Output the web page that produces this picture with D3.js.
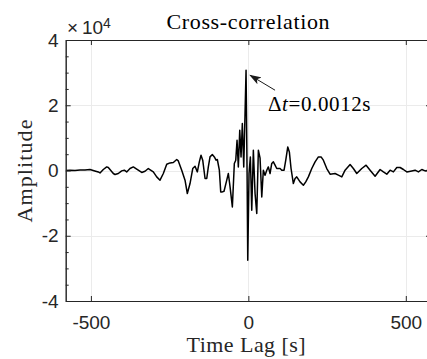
<!DOCTYPE html>
<html>
<head>
<meta charset="utf-8">
<script src="https://cdn.jsdelivr.net/npm/d3@7"></script>
<style>
  html, body { margin: 0; padding: 0; background: #fff; }
  svg { display: block; }
</style>
</head>
<body>
<svg id="chart" width="427" height="359"></svg>
<script>
// Cross-correlation of the two records: lag (s) and amplitude
const lagSeconds = [
  -579.1, -566.4, -550.5, -534.6, -518.7, -502.9, -490.2, -476.5, -471.1, -460.6,
  -449.8, -444.7, -428.8, -423.4, -413.0, -402.2, -393.9, -386.3, -375.8, -365.3,
  -354.5, -338.6, -328.1, -317.7, -301.8, -291.0, -280.5, -270.0, -259.2, -248.7,
  -238.2, -227.4, -222.4, -211.6, -201.1, -193.8, -185.2, -176.6, -169.3, -162.0,
  -155.7, -150.3, -144.9, -137.5, -132.1, -127.1, -121.7, -114.4, -108.0, -102.6,
  -98.5, -92.1, -87.7, -82.6, -77.2, -68.6, -63.5, -58.1, -50.8, -44.5,
  -40.0, -35.9, -31.8, -27.3, -23.2, -19.1, -14.6, -10.5, -7.3, -4.1,
  -1.9, 2.2, 6.4, 10.8, 15.9, 21.3, 26.7, 31.8, 37.2, 42.6,
  47.6, 53.0, 58.5, 63.5, 68.9, 74.3, 79.4, 84.8, 90.2, 100.7,
  106.1, 113.4, 118.8, 125.2, 130.2, 135.6, 142.9, 148.3, 153.7, 164.2,
  174.7, 182.3, 190.6, 201.4, 211.9, 222.4, 230.9, 238.2, 249.0, 259.5,
  275.4, 285.9, 296.7, 307.2, 323.1, 333.5, 344.3, 360.2, 373.9, 386.6,
  402.5, 418.4, 428.8, 439.6, 450.1, 460.6, 471.4, 481.9, 492.4, 503.2,
  519.1, 529.5, 540.0, 550.8, 561.3, 574.0
];
const amplitude = [
  0, 90, 30, 150, 180, 310, -60, -430, -740, 310,
  1100, 920, -920, -1230, -920, -120, 90, -430, 610, 1100,
  400, -610, -220, 610, -430, -1960, -2970, -920, 1930, 2330,
  2450, 3370, 2940, 90, -2970, -7050, -3990, 610, 1320, -430,
  2640, 4690, 3160, -2450, -2450, 1100, 4170, 4900, 4170, 3160,
  3370, 90, -6560, -6560, -6350, -2970, -920, -5030, -11160, 2150,
  3160, 9290, 1100, 12350, 4170, 14410, 1100, 17470, 30740, 90,
  -27490, -920, 4170, -12170, 6220, -7050, -13180, 6220, 3770, -8090,
  90, -1440, 90, 1100, -920, 2150, 2640, 1620, 610, 610,
  90, 90, 3160, 7230, 5700, 610, -3990, -2450, -1960, -3490,
  -4510, -3490, -1960, 610, 2640, 4170, 4170, 3160, 610, -1130,
  -920, -1440, -1960, 90, 1840, 610, -920, 610, 1620, 90,
  -1750, 310, -430, -1130, 90, -430, 920, 920, 310, -430,
  -120, 90, -430, 310, -120, 90
];

const xTicks = [-500, 0, 500];
const yTicks = [-40000, -20000, 0, 20000, 40000];
const yMinorTicks = d3.range(-40000, 40001, 5000).filter(v => v % 20000 !== 0);
const xDomain = [-580, 580];
const yDomain = [-40000, 40000];
const yExponent = 4;

const titleText = "Cross-correlation";
const xLabelText = "Time Lag [s]";
const yLabelText = "Amplitude";
const peakNote = { delta: "\u0394", sym: "t", rest: "=0.0012s" };

const svg = d3.select("#chart");
const plot = { left: 65.7, right: 431, top: 40, bottom: 301 };

const axisColor = "#262626";
const gridColor = "#ebebeb";
const sansFont = "'Liberation Sans', Arial, Helvetica, sans-serif";
const serifFont = "'Liberation Serif', 'Times New Roman', serif";

const x = d3.scaleLinear().domain(xDomain).range([plot.left, plot.right]);
const y = d3.scaleLinear().domain(yDomain).range([plot.bottom, plot.top]);

// grid
const grid = svg.append("g").attr("stroke", gridColor).attr("stroke-width", 1);
grid.selectAll("line.gx").data(xTicks).join("line")
  .attr("class", "gx")
  .attr("x1", d => Math.round(x(d)) + 0.5).attr("x2", d => Math.round(x(d)) + 0.5)
  .attr("y1", plot.top).attr("y2", plot.bottom);
grid.selectAll("line.gy").data(yTicks).join("line")
  .attr("class", "gy")
  .attr("y1", d => Math.round(y(d)) + 0.5).attr("y2", d => Math.round(y(d)) + 0.5)
  .attr("x1", plot.left).attr("x2", plot.right);

// signal
const series = lagSeconds.map((t, i) => [t, amplitude[i]]);
const line = d3.line().x(d => x(d[0])).y(d => y(d[1]));
svg.append("path")
  .datum(series)
  .attr("fill", "none")
  .attr("stroke", "#000")
  .attr("stroke-width", 1.5)
  .attr("stroke-linejoin", "round")
  .attr("d", line);

// axes (ticks point inward)
const styleAxis = g => {
  g.select(".domain").attr("stroke", axisColor).attr("stroke-width", 1);
  g.selectAll(".tick line").attr("stroke", axisColor).attr("stroke-width", 1);
  g.selectAll(".tick text")
    .attr("fill", axisColor)
    .attr("font-family", sansFont)
    .attr("font-size", 19);
};

svg.append("g")
  .attr("transform", `translate(0,${plot.bottom})`)
  .call(d3.axisBottom(x).tickValues(xTicks).tickSizeInner(-5).tickSizeOuter(0)
    .tickPadding(14.5).tickFormat(d => String(d)))
  .call(styleAxis);

svg.append("g")
  .attr("transform", `translate(0,${plot.top})`)
  .call(d3.axisTop(x).tickValues(xTicks).tickSizeInner(-5).tickSizeOuter(0).tickFormat(""))
  .call(styleAxis);

svg.append("g")
  .attr("transform", `translate(${plot.left},0)`)
  .call(d3.axisLeft(y).tickValues(yMinorTicks).tickSizeInner(-3).tickSizeOuter(0).tickFormat(""))
  .call(styleAxis);

svg.append("g")
  .attr("transform", `translate(${plot.left},0)`)
  .call(d3.axisLeft(y).tickValues(yTicks).tickSizeInner(-5).tickSizeOuter(0)
    .tickPadding(7).tickFormat(d => String(d / Math.pow(10, yExponent))))
  .call(styleAxis);

svg.append("g")
  .attr("transform", `translate(${plot.right},0)`)
  .call(d3.axisRight(y).tickValues(yTicks).tickSizeInner(-5).tickSizeOuter(0).tickFormat(""))
  .call(styleAxis);

// exponent marker
const expo = svg.append("g").attr("fill", axisColor).attr("font-family", sansFont);
expo.append("text").attr("x", 67).attr("y", 34).attr("font-size", 19).text("\u00d7");
expo.append("text").attr("x", 82).attr("y", 34.3).attr("font-size", 19).text("10");
expo.append("text").attr("x", 103).attr("y", 28).attr("font-size", 14).text(String(yExponent));

// title and axis labels
svg.append("text")
  .attr("x", (plot.left + plot.right) / 2).attr("y", 29)
  .attr("text-anchor", "middle")
  .attr("font-family", serifFont).attr("font-size", 22)
  .attr("letter-spacing", 0.65)
  .attr("fill", "#000")
  .text(titleText);

svg.append("text")
  .attr("x", (plot.left + plot.right) / 2 - 2).attr("y", 352)
  .attr("text-anchor", "middle")
  .attr("font-family", serifFont).attr("font-size", 22)
  .attr("letter-spacing", 0.45)
  .attr("fill", axisColor)
  .text(xLabelText);

svg.append("text")
  .attr("transform", `translate(32,${y(0)}) rotate(-90)`)
  .attr("text-anchor", "middle")
  .attr("font-family", serifFont).attr("font-size", 22)
  .attr("letter-spacing", 1.1)
  .attr("fill", axisColor)
  .text(yLabelText);

// peak annotation
const peakIdx = d3.maxIndex(amplitude);
const tip = [x(lagSeconds[peakIdx]) + 4, y(amplitude[peakIdx]) + 5];
const tail = [tip[0] + 25, tip[1] + 15];
svg.append("defs").append("marker")
  .attr("id", "head")
  .attr("viewBox", "0 0 12 8")
  .attr("refX", 11).attr("refY", 4)
  .attr("markerWidth", 12).attr("markerHeight", 8)
  .attr("markerUnits", "userSpaceOnUse")
  .attr("orient", "auto")
  .append("path").attr("d", "M0,0 L12,4 L0,8 L3,4 Z").attr("fill", "#1a1a1a");
svg.append("line")
  .attr("x1", tail[0]).attr("y1", tail[1])
  .attr("x2", tip[0]).attr("y2", tip[1])
  .attr("stroke", "#1a1a1a").attr("stroke-width", 1)
  .attr("marker-end", "url(#head)");

const note = svg.append("text")
  .attr("x", 268).attr("y", 111)
  .attr("font-family", serifFont).attr("font-size", 21)
  .attr("letter-spacing", 0.6)
  .attr("fill", "#000");
note.append("tspan").text(peakNote.delta);
note.append("tspan").attr("font-style", "italic").text(peakNote.sym);
note.append("tspan").text(peakNote.rest);
</script>
</body>
</html>
